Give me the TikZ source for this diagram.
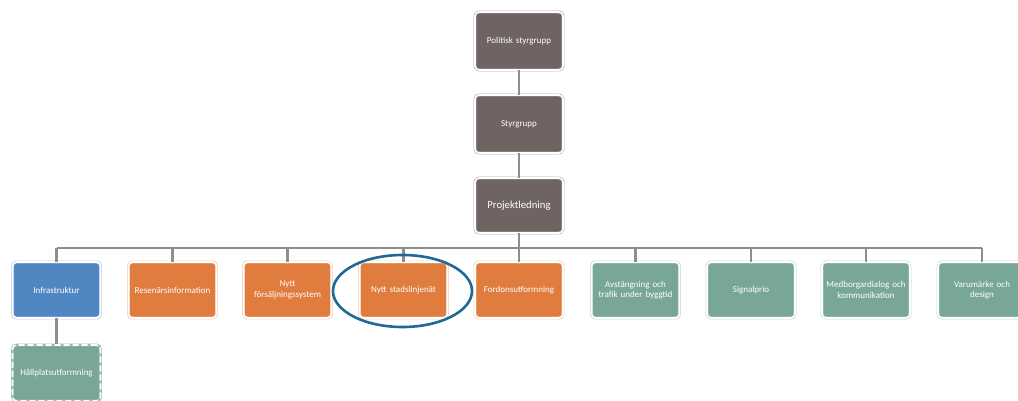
\documentclass[tikz,border=0pt]{standalone}
\usepackage{fontspec}
\usetikzlibrary{shapes.geometric}
\setmainfont{Carlito}
\definecolor{brn}{HTML}{6F6462}
\definecolor{org}{HTML}{E07C3E}
\definecolor{blu}{HTML}{5087C2}
\definecolor{grn}{HTML}{78A799}
\definecolor{lin}{HTML}{8E8E8E}
\definecolor{ell}{HTML}{1D6A96}
\tikzset{
  box/.style={rounded corners=4pt, minimum width=87pt, text width=88pt, align=center,
    text=white, font=\fontsize{9}{10.5}\selectfont, inner sep=0pt,
    double=white, double distance=1.6pt, line width=0.6pt},
  topbox/.style={box, fill=brn, draw=brn!55, minimum height=58pt},
  orgbox/.style={box, fill=org, draw=org!45, minimum height=56pt},
  blubox/.style={box, fill=blu, draw=blu!45, minimum height=56pt},
  grnbox/.style={box, fill=grn, draw=grn!50, minimum height=56pt},
  dashbox/.style={rounded corners=4pt, minimum width=87pt, minimum height=56pt, text width=88pt, inner sep=0pt,
    align=center, text=white, font=\fontsize{9}{10.5}\selectfont, fill=grn, draw=grn!75,
    line width=2.8pt, postaction={draw=white, dash pattern=on 6pt off 3pt, line width=1.6pt}},
  conn/.style={draw=lin, line width=2.2pt}
}
\begin{document}
\begin{tikzpicture}[x=1pt,y=-1pt]
\useasboundingbox (0,0) rectangle (1018,400);
\clip (0,0) rectangle (1018,400);
\fill[white] (0,0) rectangle (1018,400);
\coordinate (bus) at (519,248);
\node[topbox] (pol) at (519,41) {Politisk styrgrupp};
\node[topbox] (sty) at (519,124) {Styrgrupp};
\node[topbox, minimum height=55pt, font=\fontsize{10.7}{12}\selectfont] (proj) at (519,205.5) {Projektledning};
\node[blubox] (infra) at (56.5,290) {Infrastruktur};
\node[orgbox] (rese) at (172.5,290) {Resenärsinformation};
\node[orgbox] (fors) at (287.5,290) {Nytt\\försäljningssystem};
\node[orgbox] (stad) at (403.5,290) {Nytt stadslinjenät};
\node[orgbox] (ford) at (519,290) {Fordonsutformning};
\node[grnbox] (avst) at (635.5,290) {Avstängning och\\trafik under byggtid};
\node[grnbox] (sign) at (751,290) {Signalprio};
\node[grnbox] (medb) at (866,290) {Medborgardialog och\\kommunikation};
\node[grnbox] (varu) at (982,290) {Varumärke och\\design};
\node[dashbox] (hall) at (56.5,373) {Hållplatsutformning};
% connectors
\draw[conn] (pol.south) -- (sty.north);
\draw[conn] (sty.south) -- (proj.north);
\draw[conn] (proj.south) -- (bus);
\draw[conn] (infra.north |- bus) -- (varu.north |- bus);
\foreach \n in {infra,rese,fors,stad,ford,avst,sign,medb,varu}
  \draw[conn] (\n.north) -- (\n.north |- bus);
\draw[conn] (infra.south) -- (hall.north);
% highlight ellipse
\node[draw=ell, line width=2.6pt, ellipse, inner sep=0pt, minimum width=139pt, minimum height=72pt] (hl) at (402.5,291) {};
\end{tikzpicture}
\end{document}
